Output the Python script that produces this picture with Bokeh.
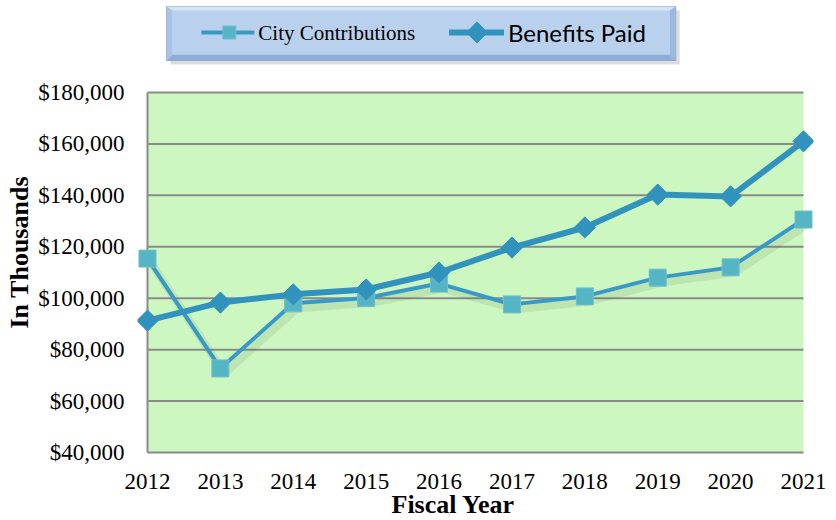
import math
from bokeh.plotting import figure
from bokeh.models import Range1d, FixedTicker, NumeralTickFormatter, Title
from bokeh.layouts import column
from bokeh.embed import file_html
from bokeh.resources import INLINE
from bokeh.core.properties import value

# ---- data ----
years = [2012, 2013, 2014, 2015, 2016, 2017, 2018, 2019, 2020, 2021]
city_contributions = [115400, 72700, 98000, 100100, 105700, 97600, 100700, 108000, 112000, 130600]
benefits_paid = [91300, 98300, 101500, 103400, 110000, 119700, 127500, 140300, 139600, 161000]
y_ticks = [40000, 60000, 80000, 100000, 120000, 140000, 160000, 180000]
series_names = ["City Contributions", "Benefits Paid"]

CITY_LINE = "#3899c7"
CITY_MARK = "#55b5c4"
BEN = "#3193bd"
GRID = "#8a8a8a"
GREEN = "#cdf7c1"
SERIF = "Liberation Serif"

W = 828
FL, FR = 136, 813          # frame edges (px)
PAD_X, PAD_Y = 10, 2       # padding around the plotted area (px)
FRAME_H = 364
px_per_year = (FR - FL - 2 * PAD_X) / (years[-1] - years[0])
val_per_px = (y_ticks[-1] - y_ticks[0]) / (FRAME_H - 2 * PAD_Y)

# ---- main chart ----
p = figure(width=W, height=450,
           x_range=Range1d(years[0] - PAD_X / px_per_year, years[-1] + PAD_X / px_per_year),
           y_range=Range1d(y_ticks[0] - PAD_Y * val_per_px, y_ticks[-1] + PAD_Y * val_per_px),
           output_backend="svg", toolbar_location=None,
           min_border_left=FL, min_border_right=W - FR, min_border_top=20, min_border_bottom=66)
p.background_fill_color = "white"
p.border_fill_color = "white"
p.outline_line_color = None
p.grid.visible = False

# plot area, grid lines, left edge
p.quad(left=years[0], right=years[-1], bottom=y_ticks[0], top=y_ticks[-1], fill_color=GREEN, line_color=None)
n = len(y_ticks)
p.segment(x0=[years[0]] * n, x1=[years[-1]] * n, y0=y_ticks, y1=y_ticks, line_color=GRID, line_width=2)
p.segment(x0=[years[0]], x1=[years[0]], y0=[y_ticks[0]], y1=[y_ticks[-1]], line_color=GRID, line_width=2)

for ax in (p.xaxis, p.yaxis):
    ax.major_tick_line_color = None
    ax.minor_tick_line_color = None
    ax.major_tick_out = 0
    ax.major_tick_in = 0
    ax.axis_line_color = None
    ax.major_label_text_font = SERIF
    ax.major_label_text_font_size = "23px"
    ax.major_label_text_color = "black"

p.yaxis.ticker = FixedTicker(ticks=y_ticks)
p.yaxis.formatter = NumeralTickFormatter(format="$0,0")
p.yaxis.major_label_standoff = 13
p.xaxis.ticker = FixedTicker(ticks=years)
p.xaxis.major_label_standoff = 19

# shadow under the city line
p.line([x + 4 / px_per_year for x in years], [v - 5 * val_per_px for v in city_contributions],
       line_color="#4d6b45", line_alpha=0.13, line_width=8)

p.line(years, city_contributions, line_color=CITY_LINE, line_width=4)
p.scatter(years, city_contributions, marker="square", size=17,
          fill_color=CITY_MARK, line_color="#6cc0cc", line_width=1)

p.line(years, benefits_paid, line_color=BEN, line_width=6)
p.scatter(years, benefits_paid, marker="square", angle=math.pi / 4, size=15,
          fill_color=BEN, line_color=BEN)

p.add_layout(Title(text="In Thousands", align="left", offset=126, standoff=4,
                   text_font=SERIF, text_font_size="26px", text_font_style="bold",
                   text_color="black"), "left")
p.add_layout(Title(text="Fiscal Year", align="left", offset=254, standoff=-8,
                   text_font=SERIF, text_font_size="26px", text_font_style="bold",
                   text_color="black"), "below")

# ---- legend strip (coordinates in pixels of the page) ----
LH = 70
lg = figure(width=W, height=LH, x_range=Range1d(FL, FR), y_range=Range1d(0, LH),
            output_backend="svg", toolbar_location=None,
            min_border_left=FL, min_border_right=W - FR, min_border_top=0, min_border_bottom=0)
lg.axis.visible = False
lg.grid.visible = False
lg.outline_line_color = None
lg.background_fill_color = "white"
lg.border_fill_color = "white"

L, R, T, B, b = 165, 675, LH - 6, LH - 60, 6
lg.quad(left=L + 4, right=R + 4, top=T - 4, bottom=B - 4, fill_color="#9a9a9a", fill_alpha=0.35, line_color=None)
lg.quad(left=L, right=R, top=T, bottom=B, fill_color="#bad1ee", line_color="#8fa9cc", line_width=1)
lg.patches(
    xs=[[L, R, R - b, L + b], [L, R, R - b, L + b], [L, L + b, L + b, L], [R, R - b, R - b, R]],
    ys=[[T, T, T - b + 2, T - b + 2], [B, B, B + b, B + b], [T, T - b + 2, B + b, B], [T, T - b + 2, B + b, B]],
    fill_color=["#d6e4f5", "#8fadd6", "#aac4e5", "#9bb8de"], line_color=None)
lg.quad(left=L + b, right=R - b, top=T - b + 2, bottom=B + b, fill_color="#bad1ee", line_color=None)

yc = LH - 32
lg.line([200, 253], [yc, yc], line_color=CITY_LINE, line_width=4)
lg.scatter([228], [yc], marker="square", size=13, fill_color=CITY_MARK, line_color="#6cc0cc")
lg.text([257], [yc], text=[series_names[0]], text_font=value(SERIF), text_font_size="21px",
        text_baseline="middle", text_color="black")

lg.line([448, 503], [yc, yc], line_color=BEN, line_width=6)
lg.scatter([476], [yc], marker="square", angle=math.pi / 4, size=15, fill_color=BEN, line_color=BEN)
lg.text([507], [yc], text=[series_names[1]], text_font=value("Lato"), text_font_size="24px",
        text_baseline="middle", text_color="black")

layout = column(lg, p, spacing=0)
open("out.html", "w").write(file_html(layout, INLINE))
